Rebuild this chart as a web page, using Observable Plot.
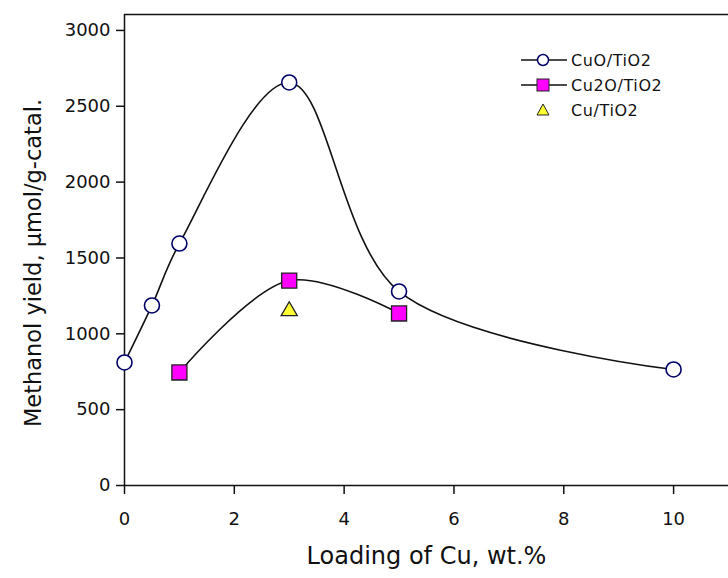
<!DOCTYPE html>
<html><head><meta charset="utf-8">
<script src="https://cdn.jsdelivr.net/npm/d3@7"></script>
<script src="https://cdn.jsdelivr.net/npm/@observablehq/plot@0.6"></script>
<style>body{margin:0;background:#fff}</style>
</head><body><div id="chart"></div>
<script>
const seriesNames = ["CuO/TiO2", "Cu2O/TiO2", "Cu/TiO2"];
const cuoX = [0, 0.5, 1, 3, 5, 10];
const cuoY = [811, 1187, 1595, 2657, 1279, 765];
const cu2oX = [1, 3, 5];
const cu2oY = [745, 1351, 1134];
const cuX = [3];
const cuY = [1150];
const xTicks = [0, 2, 4, 6, 8, 10];
const yTicks = [0, 500, 1000, 1500, 2000, 2500, 3000];

const cuo = cuoX.map((x, i) => ({x, y: cuoY[i]}));
const cu2o = cu2oX.map((x, i) => ({x, y: cu2oY[i]}));
const cu = cuX.map((x, i) => ({x, y: cuY[i]}));

const font = "'DejaVu Sans', 'Liberation Sans', Arial, sans-serif";
const chart = Plot.plot({
  width: 728, height: 578,
  marginLeft: 124, marginTop: 14, marginRight: 0, marginBottom: 93,
  style: {fontFamily: font, fontSize: "18px", color: "#111", background: "#fff"},
  x: {domain: [0, 11]},
  y: {domain: [0, 3105]},
  marks: [
    Plot.ruleY([3105], {stroke: "#111", strokeWidth: 1.5}),
    Plot.ruleX([0], {stroke: "#111", strokeWidth: 1.5}),
    Plot.ruleY([0], {stroke: "#111", strokeWidth: 1.5}),
    Plot.axisX({ticks: xTicks, tickFormat: d => String(d), tickSize: 9, tickPadding: 18, label: null, fontSize: 18, strokeWidth: 1.5}),
    Plot.axisY({ticks: yTicks, tickFormat: d => String(d), tickSize: 8, tickPadding: 6, label: null, fontSize: 18, strokeWidth: 1.5}),
    Plot.text(["Loading of Cu, wt.%"], {frameAnchor: "bottom", dy: 78, fontSize: 24}),
    Plot.text(["Methanol yield, μmol/g-catal."], {frameAnchor: "left", textAnchor: "middle", dx: -91, dy: 13, rotate: -90, fontSize: 22.5}),
    Plot.line(cuo, {x: "x", y: "y", curve: "catmull-rom", stroke: "#111", strokeWidth: 1.6}),
    Plot.line(cu2o, {x: "x", y: "y", curve: "catmull-rom", stroke: "#111", strokeWidth: 1.6}),
    Plot.dot(cuo, {x: "x", y: "y", r: 7.5, fill: "#fff", stroke: "#000066", strokeWidth: 1.6}),
    Plot.dot(cu2o, {x: "x", y: "y", r: 8.5, symbol: "square", fill: "#ff00ff", stroke: "#222", strokeWidth: 1.3}),
    Plot.dot(cu, {x: "x", y: "y", r: 6, symbol: "triangle", fill: "#ffff33", stroke: "#222", strokeWidth: 1.3})
  ]
});
document.getElementById("chart").appendChild(chart);

// legend
const svg = d3.select(chart);
const lg = svg.append("g").attr("font-family", font).attr("font-size", 16).attr("letter-spacing", 0.6).attr("fill", "#111").attr("text-anchor", "start");
const rows = [
  {name: seriesNames[0], y: 60, line: true, sym: "circle"},
  {name: seriesNames[1], y: 85, line: true, sym: "square"},
  {name: seriesNames[2], y: 110, line: false, sym: "triangle"}
];
rows.forEach(r => {
  if (r.line) lg.append("line").attr("x1", 521).attr("x2", 567).attr("y1", r.y).attr("y2", r.y).attr("stroke", "#111").attr("stroke-width", 1.6);
  if (r.sym === "circle") lg.append("circle").attr("cx", 543).attr("cy", r.y).attr("r", 5.5).attr("fill", "#fff").attr("stroke", "#000066").attr("stroke-width", 1.5);
  if (r.sym === "square") lg.append("rect").attr("x", 537).attr("y", r.y - 6).attr("width", 12).attr("height", 12).attr("fill", "#ff00ff").attr("stroke", "#222");
  if (r.sym === "triangle") lg.append("path").attr("d", `M${543},${r.y - 6}L${549},${r.y + 5}L${537},${r.y + 5}Z`).attr("fill", "#ffff33").attr("stroke", "#222");
  lg.append("text").attr("x", 571).attr("y", r.y).attr("dy", "0.35em").text(r.name);
});
</script></body></html>
